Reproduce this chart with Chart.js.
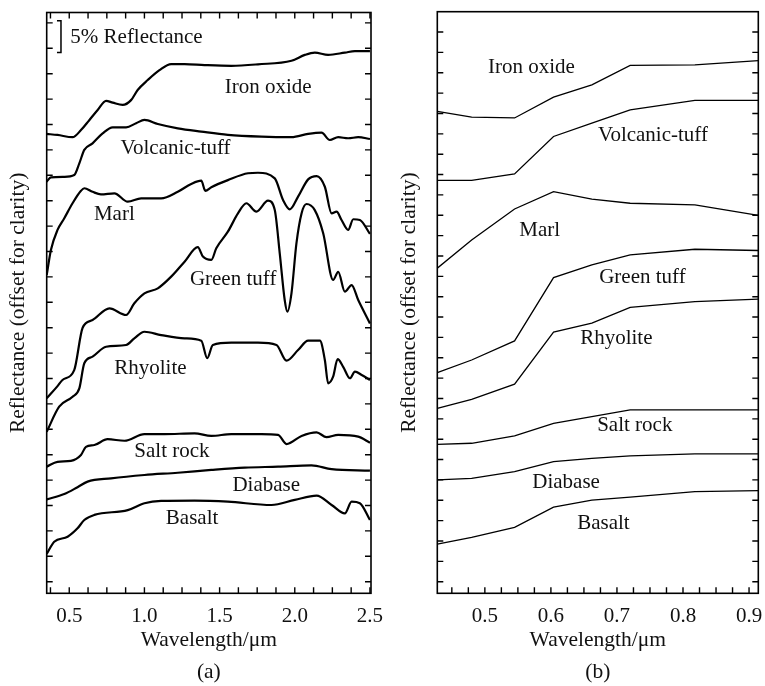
<!DOCTYPE html>
<html><head><meta charset="utf-8">
<script src="https://cdn.jsdelivr.net/npm/chart.js@4.4.1/dist/chart.umd.min.js"></script>
<style>
html,body{margin:0;padding:0;background:#fff;}
#wrap{position:relative;width:765px;height:686px;background:#fff;}
#ca{position:absolute;left:0;top:0;}
#cb{position:absolute;left:390px;top:0;}
</style></head><body>
<div id="wrap"><canvas id="ca" width="390" height="686"></canvas><canvas id="cb" width="375" height="686"></canvas></div>
<script>
// ---------- Panel (a): full spectra (offset reflectance, tick units; 1 tick = 4 %) ----------
const seriesNames = ['Iron oxide','Volcanic-tuff','Marl','Green tuff','Rhyolite','Salt rock','Diabase','Basalt'];

const ironX = [0.35,0.422,0.522,0.578,0.633,0.689,0.745,0.789,0.855,0.911,0.955,1.022,1.1,1.178,1.267,1.4,1.578,1.755,1.978,2.067,2.133,2.222,2.333,2.4,2.5];
const ironY = [17.63,17.59,17.50,17.78,18.17,18.57,18.93,18.86,18.77,18.96,19.36,19.75,20.14,20.38,20.38,20.34,20.31,20.37,20.51,20.74,20.83,20.74,20.83,20.89,20.89];

const tuffX = [0.35,0.378,0.467,0.533,0.567,0.6,0.655,0.722,0.789,0.878,0.945,1.0,1.089,1.222,1.378,1.555,1.778,1.978,2.089,2.178,2.233,2.289,2.355,2.422,2.5];
const tuffY = [15.75,15.92,15.94,16.01,16.47,17.0,17.26,17.65,17.89,17.89,18.05,18.18,18.02,17.85,17.72,17.59,17.52,17.50,17.63,17.68,17.39,17.50,17.46,17.50,17.43];

const marlX = [0.35,0.378,0.422,0.467,0.522,0.578,0.6,0.655,0.711,0.8,0.889,0.978,1.111,1.222,1.311,1.378,1.405,1.445,1.555,1.689,1.755,1.867,1.922,1.967,2.022,2.089,2.145,2.2,2.245,2.278,2.311,2.355,2.389,2.433,2.5];
const marlY = [12.07,13.06,13.85,14.31,14.90,15.39,15.49,15.35,15.25,15.29,14.96,15.09,15.09,15.35,15.66,15.79,15.39,15.53,15.81,16.08,16.10,15.88,15.03,14.66,15.16,15.84,15.97,15.55,14.50,14.57,14.24,13.85,14.27,14.24,13.69];

const greenX = [0.35,0.422,0.455,0.533,0.589,0.655,0.767,0.878,0.933,1.0,1.089,1.178,1.267,1.355,1.389,1.445,1.478,1.555,1.622,1.678,1.745,1.822,1.867,1.9,1.933,1.951,1.978,2.011,2.045,2.078,2.133,2.189,2.255,2.289,2.333,2.378,2.422,2.5];
const greenY = [7.22,7.70,7.94,8.33,10.0,10.30,10.76,10.50,10.96,11.35,11.55,12.01,12.60,13.17,12.80,12.67,13.13,13.78,14.50,14.90,14.57,15.0,14.63,12.93,11.09,10.63,11.35,13.32,14.50,14.87,14.63,13.72,11.88,12.20,11.42,11.68,11.09,10.17];

const rhyX = [0.35,0.433,0.522,0.567,0.6,0.655,0.745,0.878,0.933,1.0,1.111,1.267,1.378,1.418,1.455,1.578,1.755,1.878,1.945,2.022,2.089,2.167,2.2,2.222,2.255,2.285,2.322,2.367,2.4,2.445,2.5];
const rhyY = [5.90,6.89,7.28,7.61,8.60,8.86,9.25,9.32,9.58,9.84,9.71,9.58,9.49,8.80,9.32,9.41,9.41,9.32,8.70,9.12,9.49,9.49,8.73,7.81,8.07,8.76,8.46,8.01,8.27,8.14,7.94];

const saltX = [0.35,0.422,0.511,0.578,0.611,0.667,0.755,0.867,1.0,1.133,1.333,1.445,1.578,1.778,1.889,1.945,2.045,2.145,2.211,2.289,2.422,2.5];
const saltY = [4.53,4.72,4.76,4.99,5.31,5.38,5.61,5.55,5.81,5.81,5.84,5.74,5.81,5.81,5.78,5.42,5.74,5.88,5.69,5.78,5.71,5.47];

const diaX = [0.35,0.467,0.555,0.622,0.778,1.0,1.222,1.445,1.667,1.889,2.111,2.245,2.5];
const diaY = [3.24,3.45,3.72,3.94,4.07,4.20,4.29,4.40,4.49,4.53,4.58,4.43,4.37];

const basX = [0.35,0.4,0.489,0.555,0.6,0.667,0.889,1.0,1.111,1.333,1.555,1.845,2.0,2.145,2.245,2.333,2.378,2.433,2.5];
const basY = [1.09,1.57,1.77,2.10,2.43,2.63,2.82,3.09,3.18,3.19,3.15,3.02,3.22,3.39,3.02,2.69,3.15,3.09,2.43];

const ticksA = [0.5,1.0,1.5,2.0,2.5];
// label anchors in data units (wavelength, offset reflectance)
const labelXA = [1.823,1.207,0.80,1.59,1.04,1.183,1.81,1.317];
const labelYA = [19.46,17.07,14.44,11.88,8.41,5.11,3.77,2.47];

// ---------- Panel (b): band-resampled spectra ----------
const bandsB = [0.428,0.480,0.545,0.604,0.662,0.720,0.818,0.914];
const ironB  = [23.10,22.82,22.78,23.80,24.41,25.36,25.39,25.60];
const tuffB  = [19.71,19.71,20.03,21.87,22.53,23.18,23.64,23.64];
const marlB  = [15.40,16.79,18.31,19.16,18.79,18.59,18.51,17.99];
const greenB = [10.27,10.89,11.83,14.94,15.56,16.05,16.33,16.27];
const rhyB   = [8.52,8.96,9.70,12.26,12.70,13.48,13.76,13.88];
const saltB  = [6.75,6.80,7.16,7.78,8.11,8.44,8.44,8.44];
const diaB   = [5.00,5.08,5.41,5.90,6.06,6.18,6.28,6.28];
const basB   = [1.85,2.18,2.67,3.66,4.01,4.15,4.42,4.47];

const ticksB = [0.5,0.6,0.7,0.8,0.9];
const labelXB = [0.5705,0.7545,0.583,0.7386,0.699,0.727,0.623,0.6795];
const labelYB = [25.24,21.90,17.23,14.92,11.93,7.65,4.85,2.88];

// ---------- helpers ----------
const FONT = '"Liberation Serif","Times New Roman",serif';
const INK = '#111';

function range(a, b, step) { const out = []; for (let v = a; v <= b + 1e-9; v += step) out.push(+v.toFixed(4)); return out; }

const frameTicks = {
  id: 'frameTicks',
  afterDatasetsDraw(chart, args, o) {
    const {ctx, chartArea: a, scales: {x, y}} = chart;
    ctx.save();
    ctx.strokeStyle = '#000';
    ctx.lineWidth = o.frameWidth;
    ctx.strokeRect(a.left, a.top, a.right - a.left, a.bottom - a.top);
    ctx.lineWidth = o.tickWidth;
    ctx.beginPath();
    o.xMinor.forEach(v => {
      const px = x.getPixelForValue(v);
      ctx.moveTo(px, a.bottom); ctx.lineTo(px, a.bottom - o.len);
      if (o.topTicks) { ctx.moveTo(px, a.top); ctx.lineTo(px, a.top + o.len); }
    });
    o.yMinor.forEach(v => {
      const py = y.getPixelForValue(v);
      ctx.moveTo(a.left, py); ctx.lineTo(a.left + o.len, py);
      ctx.moveTo(a.right, py); ctx.lineTo(a.right - o.len, py);
    });
    ctx.stroke();
    ctx.fillStyle = INK;
    ctx.font = '21px ' + FONT;
    ctx.textAlign = 'center';
    ctx.textBaseline = 'middle';
    o.names.forEach((t, i) => ctx.fillText(t, x.getPixelForValue(o.lx[i]), y.getPixelForValue(o.ly[i])));
    if (o.bracket) {
      const b = o.bracket;
      const bx = x.getPixelForValue(b.x), y0 = y.getPixelForValue(b.y0), y1 = y.getPixelForValue(b.y1);
      ctx.lineWidth = 1.5;
      ctx.beginPath();
      ctx.moveTo(bx - 4, y1); ctx.lineTo(bx, y1); ctx.lineTo(bx, y0); ctx.lineTo(bx - 4, y0);
      ctx.stroke();
      ctx.textAlign = 'left';
      ctx.fillText(b.text, x.getPixelForValue(b.tx), y.getPixelForValue(b.ty));
    }
    ctx.restore();
  }
};

function makeChart(canvas, cfg) {
  return new Chart(canvas, {
    type: 'line',
    data: { datasets: cfg.series.map(s => ({
      data: s[0].map((xv, i) => ({x: xv, y: s[1][i]})),
      borderColor: '#000', borderWidth: cfg.lw, pointRadius: 0,
      tension: cfg.tension, cubicInterpolationMode: cfg.cubic, fill: false
    })) },
    options: {
      responsive: false, animation: false, devicePixelRatio: 1,
      layout: { padding: cfg.pad },
      plugins: {
        legend: { display: false }, tooltip: { enabled: false },
        title: { display: true, text: cfg.panel, position: 'bottom', fullSize: false, color: INK,
                 font: { family: FONT, size: 21.5, weight: 'normal', lineHeight: 1 }, padding: { top: 9.5, bottom: 0 } },
        frameTicks: cfg.ft
      },
      scales: {
        x: {
          type: 'linear', min: cfg.xmin, max: cfg.xmax,
          grid: { display: false, drawTicks: false }, border: { display: false },
          afterBuildTicks: s => { s.ticks = cfg.majors.map(v => ({value: v})); },
          afterFit: s => { s.height = 58.45; s.paddingLeft = 0; s.paddingRight = 0; },
          ticks: { color: INK, font: { family: FONT, size: 21 }, padding: 10.5, maxRotation: 0, autoSkip: false,
                   callback: v => Number(v).toFixed(1) },
          title: { display: true, text: 'Wavelength/\u03bcm', color: INK,
                   font: { family: FONT, size: 21.5, lineHeight: 1 }, padding: { top: 0, bottom: 1 } }
        },
        y: {
          type: 'linear', min: cfg.ymin, max: cfg.ymax,
          grid: { display: false, drawTicks: false }, border: { display: false },
          ticks: { display: false },
          afterFit: s => { s.width = cfg.yw; s.paddingTop = 0; s.paddingBottom = 0; },
          title: { display: true, text: 'Reflectance (offset for clarity)', color: INK,
                   font: { family: FONT, size: 21.5, lineHeight: 1 }, padding: { top: cfg.ytp, bottom: 0 } }
        }
      }
    },
    plugins: [frameTicks]
  });
}

makeChart(document.getElementById('ca'), {
  panel: '(a)', lw: 2.2, tension: 0, cubic: 'monotone',
  pad: { left: 0, top: 12.5, right: 19, bottom: 3.25 },
  xmin: 0.35, xmax: 2.507, ymin: -0.457, ymax: 22.41, yw: 46.7, ytp: 7.75,
  majors: ticksA,
  series: [[ironX, ironY], [tuffX, tuffY], [marlX, marlY], [greenX, greenY], [rhyX, rhyY], [saltX, saltY], [diaX, diaY], [basX, basY]],
  ft: { frameWidth: 1.6, tickWidth: 1.4, len: 6, topTicks: true,
        xMinor: range(0.375, 2.5, 0.125), yMinor: range(0, 22, 1),
        names: seriesNames, lx: labelXA, ly: labelYA,
        bracket: { x: 0.445, y0: 20.84, y1: 22.09, text: '5% Reflectance', tx: 0.507, ty: 21.44 } }
});

makeChart(document.getElementById('cb'), {
  panel: '(b)', lw: 1.3, tension: 0, cubic: 'default',
  pad: { left: 0, top: 11.7, right: 6.7, bottom: 3.25 },
  xmin: 0.428, xmax: 0.914, ymin: -0.57, ymax: 28.0, yw: 47.3, ytp: 8.25,
  majors: ticksB,
  series: [[bandsB, ironB], [bandsB, tuffB], [bandsB, marlB], [bandsB, greenB], [bandsB, rhyB], [bandsB, saltB], [bandsB, diaB], [bandsB, basB]],
  ft: { frameWidth: 1.6, tickWidth: 1.4, len: 6, topTicks: false,
        xMinor: range(0.45, 0.9, 0.025), yMinor: range(0, 27, 1),
        names: seriesNames, lx: labelXB, ly: labelYB, bracket: null }
});
</script>
</body></html>
